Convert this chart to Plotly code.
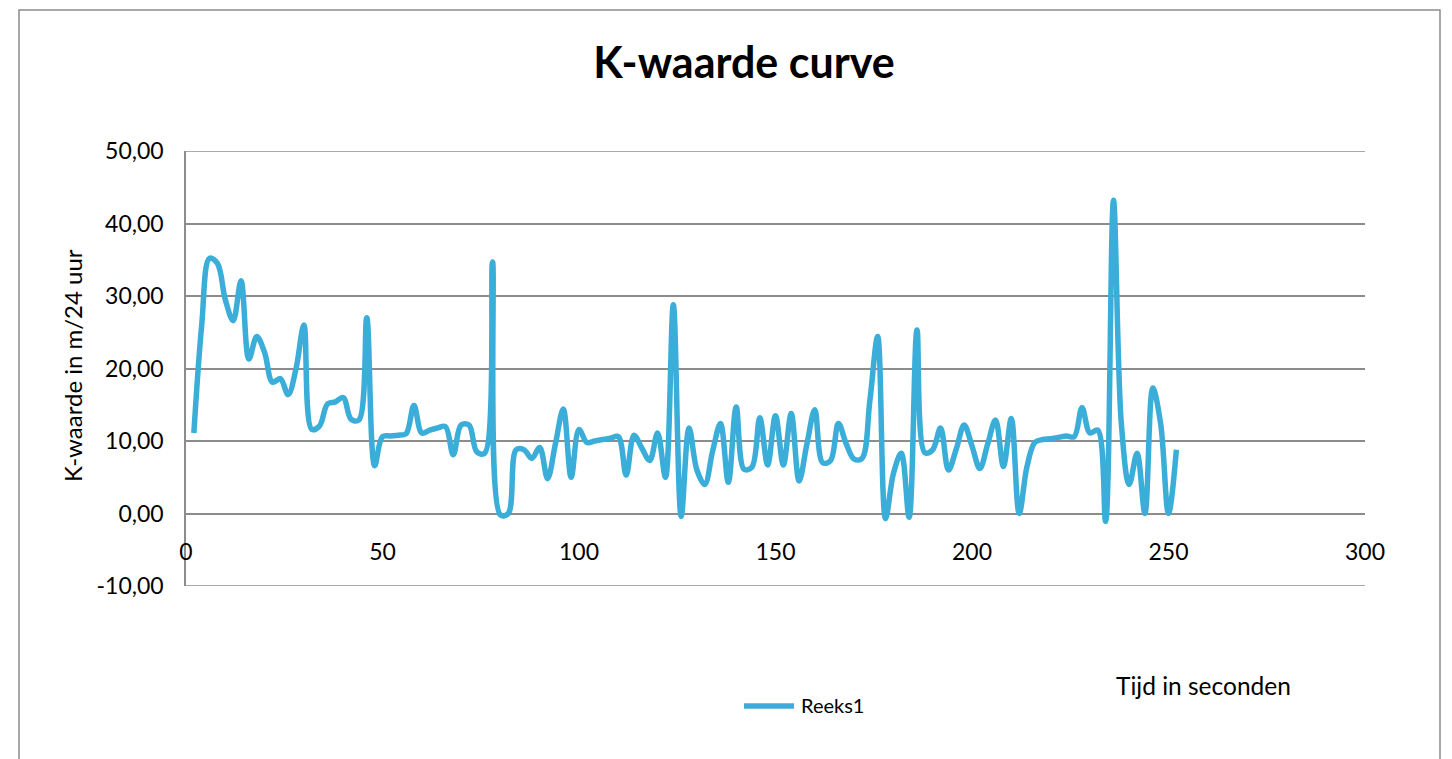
import plotly.graph_objects as go

# Measurement times (s) and K-values (m/24 uur)
tijd = list(range(2, 254, 2))
k_waarde = [
    11.1, 26.0, 35.2, 34.5, 29.5, 26.6, 32.1, 21.3, 24.4, 22.2,
    18.1, 18.6, 16.4, 20.0, 26.0, 11.6, 12.1, 15.1, 15.4, 16.0,
    13.0, 12.9, 27.0, 6.6, 10.6, 10.7, 10.8, 11.0, 14.9, 11.1,
    11.5, 11.8, 12.0, 8.1, 12.2, 12.2, 8.5, 8.3, 34.7, -0.2,
    0.0, 8.8, 8.8, 7.6, 9.1, 4.8, 9.6, 14.4, 5.0, 11.6,
    9.8, 10.0, 10.2, 10.4, 10.6, 5.3, 10.8, 9.0, 7.3, 11.1,
    5.0, 28.8, -0.4, 11.8, 6.0, 4.0, 8.6, 12.4, 4.3, 14.7,
    6.1, 6.4, 13.2, 6.7, 13.5, 6.7, 13.8, 4.5, 9.6, 14.3,
    7.0, 7.3, 12.4, 9.6, 7.5, 7.6, 15.5, 24.4, -0.7, 5.5,
    8.3, -0.5, 25.3, 8.4, 8.8, 11.8, 6.0, 8.9, 12.2, 9.3,
    6.2, 9.6, 12.9, 6.5, 13.1, 0.0, 6.5, 9.8, 10.2, 10.3,
    10.5, 10.7, 10.6, 14.6, 11.1, 11.5, -1.1, 43.2, 12.4, 4.0,
    8.3, 0.0, 17.3, 12.4, 0.0, 8.8,
]
series_name = "Reeks1"

y_ticks = [-10, 0, 10, 20, 30, 40, 50]
y_ticktext = [f"{v:.2f}".replace(".", ",") for v in y_ticks]
x_ticks = [0, 50, 100, 150, 200, 250, 300]

W, H = 1452, 759
L, R, T, B = 186, 87, 151, 173
pw, ph = W - L - R, H - T - B


def px(x):
    return (x - L) / pw


def py(y):
    return (H - B - y) / ph


FONT = "Lato"
GRID = "#8c8c8c"
LINE = "#3aaed8"

fig = go.Figure()
fig.add_trace(go.Scatter(
    x=tijd, y=k_waarde, mode="lines", name=series_name,
    line=dict(color=LINE, width=5.5, shape="spline", smoothing=1.0),
    showlegend=False,
))

shapes = [
    # chart frame
    dict(type="rect", xref="paper", yref="paper",
         x0=px(19), x1=px(1440), y0=py(775), y1=py(10),
         line=dict(color=GRID, width=1.5), fillcolor="rgba(0,0,0,0)",
         layer="below"),
    # legend line sample
    dict(type="line", xref="paper", yref="paper",
         x0=px(744), x1=px(794), y0=py(706), y1=py(706),
         line=dict(color=LINE, width=5.5)),
]
# outermost gridlines at the range limits
for yv in (y_ticks[0], y_ticks[-1]):
    shapes.append(dict(type="line", xref="paper", yref="y", x0=0, x1=1,
                       y0=yv, y1=yv, line=dict(color=GRID, width=1.5),
                       layer="below"))

fig.update_layout(
    width=W, height=H,
    margin=dict(l=L, r=R, t=T, b=B, pad=0),
    paper_bgcolor="white", plot_bgcolor="white",
    font=dict(family=FONT, color="black"),
    title=dict(text="<b>K-waarde curve</b>", x=744 / W, xref="container",
               xanchor="center", y=1 - 63 / H, yref="container",
               yanchor="middle",
               font=dict(size=43, family=FONT, color="black")),
    xaxis=dict(range=[0, 300], tickvals=x_ticks, showgrid=False,
               zeroline=False, showline=False, ticks="",
               anchor="free", position=py(513.5),
               tickfont=dict(size=23, family=FONT),
               ticklabelstandoff=22),
    yaxis=dict(range=[-10, 50], tickvals=y_ticks, ticktext=y_ticktext,
               showgrid=True, gridcolor=GRID, gridwidth=1.5,
               zeroline=False, showline=True, linecolor=GRID, linewidth=1.5,
               ticks="", tickfont=dict(size=23, family=FONT),
               ticklabelstandoff=16),
    shapes=shapes,
    annotations=[
        dict(text="K-waarde in m/24 uur", xref="paper", yref="paper",
             x=px(72), y=py(366), textangle=-90, showarrow=False,
             xanchor="center", yanchor="middle",
             font=dict(size=24, family=FONT)),
        dict(text="Tijd in seconden", xref="paper", yref="paper",
             x=px(1203), y=py(685), showarrow=False,
             xanchor="center", yanchor="middle",
             font=dict(size=24.5, family=FONT)),
        dict(text=series_name, xref="paper", yref="paper",
             x=px(799), y=py(705), showarrow=False,
             xanchor="left", yanchor="middle",
             font=dict(size=20, family=FONT)),
    ],
)

fig.write_html("out.html")
